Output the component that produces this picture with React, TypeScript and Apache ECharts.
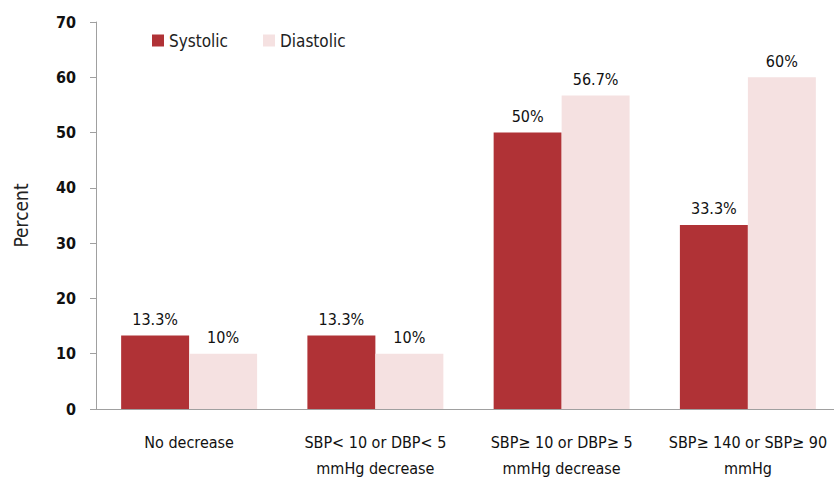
import React, { useEffect, useRef } from "react";
import * as echarts from "echarts";

const categories = [
  "No decrease",
  "SBP< 10 or DBP< 5\nmmHg decrease",
  "SBP≥ 10 or DBP≥ 5\nmmHg decrease",
  "SBP≥ 140 or SBP≥ 90\nmmHg",
];
const systolic = [13.3, 13.3, 50, 33.3];
const diastolic = [10, 10, 56.7, 60];
const systolicLabels = ["13.3%", "13.3%", "50%", "33.3%"];
const diastolicLabels = ["10%", "10%", "56.7%", "60%"];

const FONT = "'DejaVu Sans Condensed', 'Liberation Sans Narrow', 'Open Sans', sans-serif";

export default function App() {
  const ref = useRef<HTMLDivElement>(null);
  useEffect(() => {
    if (!ref.current) return;
    const chart = echarts.init(ref.current, null, { renderer: "svg" });
    chart.setOption({
      animation: false,
      backgroundColor: "#fff",
      legend: {
        left: 147,
        top: 27,
        itemWidth: 12,
        itemHeight: 12,
        itemGap: 35,
        icon: "rect",
        textStyle: { fontFamily: FONT, fontSize: 17, color: "#222" },
        data: ["Systolic", "Diastolic"],
      },
      grid: { left: 96, right: 0, top: 22, bottom: 73, containLabel: false },
      xAxis: {
        type: "category",
        data: categories,
        axisLine: { lineStyle: { color: "#a0a0a0" } },
        axisTick: { show: false },
        axisLabel: {
          fontFamily: FONT,
          fontSize: 16,
          color: "#111",
          margin: 20,
          lineHeight: 26,
          interval: 0,
        },
      },
      yAxis: {
        type: "value",
        min: 0,
        max: 70,
        interval: 10,
        name: "Percent",
        nameLocation: "middle",
        nameGap: 66,
        nameTextStyle: { fontFamily: FONT, fontSize: 19, color: "#222" },
        splitLine: { show: false },
        axisLine: { show: true, lineStyle: { color: "#a0a0a0" } },
        axisTick: { show: true, length: 6, lineStyle: { color: "#a0a0a0" } },
        axisLabel: { fontFamily: FONT, fontSize: 16, color: "#111", margin: 20, fontWeight: "bold" },
      },
      series: [
        {
          name: "Systolic",
          type: "bar",
          data: systolic,
          itemStyle: { color: "#B03236" },
          barGap: "0%",
          barCategoryGap: "27%",
          label: {
            show: true,
            position: "top",
            distance: 8,
            fontFamily: FONT,
            fontSize: 16,
            color: "#111",
            formatter: (p: any) => systolicLabels[p.dataIndex],
          },
        },
        {
          name: "Diastolic",
          type: "bar",
          data: diastolic,
          itemStyle: { color: "#F5E1E1" },
          barGap: "0%",
          barCategoryGap: "27%",
          label: {
            show: true,
            position: "top",
            distance: 8,
            fontFamily: FONT,
            fontSize: 16,
            color: "#111",
            formatter: (p: any) => diastolicLabels[p.dataIndex],
          },
        },
      ],
    });
    return () => chart.dispose();
  }, []);
  return (
    <div style={{ position: "absolute", left: 0, top: 0, width: 834, height: 482, overflow: "hidden", background: "#fff" }}>
      <div ref={ref} style={{ width: 841, height: 482 }} />
    </div>
  );
}
